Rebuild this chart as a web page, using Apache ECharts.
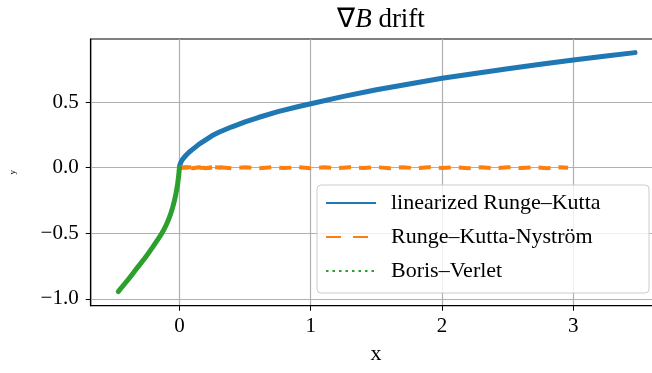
<!DOCTYPE html>
<html>
<head>
<meta charset="utf-8">
<script src="https://cdn.jsdelivr.net/npm/echarts@6/dist/echarts.min.js"></script>
<style>html,body{margin:0;padding:0;background:#fff}#c{width:652px;height:373px}</style>
</head>
<body>
<div id="c"></div>
<script>
// ---- data ----
const xTicks = [0, 1, 2, 3];
const yTicks = [-1.0, -0.5, 0.0, 0.5];

const seriesNames = ['linearized Runge–Kutta', 'Runge–Kutta-Nyström', 'Boris–Verlet'];

const blueX = [0, 0.003, 0.01, 0.02, 0.035, 0.05, 0.075, 0.1, 0.15, 0.2, 0.25, 0.3, 0.4, 0.5, 0.6, 0.75, 0.9, 1.0, 1.25, 1.5, 1.75, 2.0, 2.25, 2.5, 2.75, 3.0, 3.25, 3.47];
const blueY = [0, 0.02, 0.04, 0.058, 0.078, 0.095, 0.12, 0.14, 0.18, 0.212, 0.245, 0.27, 0.312, 0.35, 0.383, 0.428, 0.465, 0.488, 0.544, 0.595, 0.639, 0.682, 0.719, 0.755, 0.79, 0.822, 0.853, 0.878];

const orangeX = [0, 0.1, 0.2, 0.3, 0.4, 0.5, 0.6, 0.7, 0.8, 0.9, 1.0, 1.1, 1.2, 1.3, 1.4, 1.5, 1.6, 1.7, 1.8, 1.9, 2.0, 2.1, 2.2, 2.3, 2.4, 2.5, 2.6, 2.7, 2.8, 2.9, 2.96];
const orangeY = [0, 0.004, -0.003, 0.004, -0.004, 0.003, -0.004, 0.004, -0.003, 0.004, -0.004, 0.003, -0.004, 0.004, -0.003, 0.004, -0.004, 0.003, -0.004, 0.004, -0.003, 0.004, -0.004, 0.003, -0.004, 0.004, -0.003, 0.004, -0.004, 0.003, 0.0];
const orangeDenseX = [0, 0.05, 0.1, 0.15, 0.2, 0.25, 0.32];
const orangeDenseY = [0, 0.004, -0.004, 0.004, -0.004, 0.004, 0];

const greenX = [-0.466, -0.40, -0.33, -0.26, -0.20, -0.14, -0.10, -0.066, -0.038, -0.018, -0.007, -0.002, 0];
const greenY = [-0.945, -0.865, -0.775, -0.685, -0.60, -0.51, -0.435, -0.35, -0.25, -0.15, -0.07, -0.02, 0];

const xRange = [-0.676, 3.67];
const yRange = [-1.053, 0.982];

// ---- build ----
const zip = (a, b) => a.map((v, i) => [v, b[i]]);
const FONT = 'Liberation Serif';
const BLUE = '#1f77b4', ORANGE = '#ff7f0e', GREEN = '#2ca02c';

const chart = echarts.init(document.getElementById('c'), null, { renderer: 'canvas' });
const fmtY = v => (v < 0 ? '\u2212' : '') + Math.abs(v).toFixed(1);

chart.setOption({
  animation: false,
  backgroundColor: '#fff',
  title: {
    left: 376, top: 1, textAlign: 'center',
    text: '{n|\u2207}{b|B}{n| drift}',
    textStyle: {
      fontWeight: 'normal',
      rich: {
        n: { fontFamily: FONT, fontSize: 27, fontWeight: 'normal', color: '#000' },
        b: { fontFamily: FONT, fontSize: 27, fontWeight: 'normal', fontStyle: 'italic', color: '#000' }
      }
    }
  },
  grid: {
    left: 90.7, top: 39, width: 570.6, height: 266.7,
    outerBoundsMode: 'none', containLabel: false,
    show: true, borderColor: '#000', borderWidth: 1.2, backgroundColor: 'transparent'
  },
  legend: {
    orient: 'vertical', left: 317, top: 185,
    data: seriesNames,
    itemWidth: 50, itemHeight: 14, itemGap: 10,
    padding: [6, 12, 10, 8],
    backgroundColor: 'rgba(255,255,255,0.8)',
    borderColor: '#cccccc', borderWidth: 1, borderRadius: 4,
    textStyle: { fontFamily: FONT, fontSize: 22, color: '#000', lineHeight: 24, width: 246, padding: [0, 0, 0, 10] },
    selectedMode: false
  },
  xAxis: {
    type: 'value', min: xRange[0], max: xRange[1],
    name: 'x', nameLocation: 'middle', nameGap: 38,
    nameTextStyle: { fontFamily: FONT, fontSize: 22, color: '#000' },
    axisLine: { show: true, onZero: false, lineStyle: { color: '#000', width: 1.2 } },
    axisTick: { show: true, length: 5, inside: false, customValues: xTicks, lineStyle: { color: '#000', width: 1 } },
    axisLabel: { customValues: xTicks, margin: 10, fontFamily: FONT, fontSize: 21, color: '#000', formatter: v => String(v) },
    splitLine: { show: true, lineStyle: { color: '#b0b0b0', width: 1.2 } }
  },
  yAxis: {
    type: 'value', min: yRange[0], max: yRange[1],
    name: 'y', nameLocation: 'middle', nameGap: 74, nameRotate: 90,
    nameTextStyle: { fontFamily: FONT, fontSize: 9, color: '#000' },
    axisLine: { show: true, onZero: false, lineStyle: { color: '#000', width: 1.2 } },
    axisTick: { show: true, length: 5, inside: false, customValues: yTicks, lineStyle: { color: '#000', width: 1 } },
    axisLabel: { customValues: yTicks, margin: 12, fontFamily: FONT, fontSize: 21, color: '#000', formatter: fmtY },
    splitLine: { show: true, lineStyle: { color: '#b0b0b0', width: 1.2 } }
  },
  series: [
    // legend entries
    { name: seriesNames[0], type: 'line', data: [], symbol: 'none', symbolSize: 0, color: BLUE,
      itemStyle: { opacity: 0 }, lineStyle: { color: BLUE, width: 3 } },
    { name: seriesNames[1], type: 'line', data: [], symbol: 'none', symbolSize: 0, color: ORANGE,
      itemStyle: { opacity: 0 }, lineStyle: { color: ORANGE, width: 3, type: [15, 12] } },
    { name: seriesNames[2], type: 'line', data: [], symbol: 'none', symbolSize: 0, color: GREEN,
      itemStyle: { opacity: 0 }, lineStyle: { color: GREEN, width: 3, type: [2.5, 4] } },
    // plotted curves
    { name: '_rk', type: 'line', data: zip(blueX, blueY), symbol: 'none',
      lineStyle: { color: BLUE, width: 5, cap: 'round', join: 'round' }, z: 3 },
    { name: '_rkn', type: 'line', data: zip(orangeX, orangeY), symbol: 'none',
      lineStyle: { color: ORANGE, width: 4, type: [12, 8], cap: 'butt' }, z: 4 },
    { name: '_rkn2', type: 'line', data: zip(orangeDenseX, orangeDenseY), symbol: 'none',
      lineStyle: { color: ORANGE, width: 4, type: [9, 3] }, z: 4 },
    { name: '_bv', type: 'line', data: zip(greenX, greenY), symbol: 'none', smooth: 0.2,
      lineStyle: { color: GREEN, width: 5, cap: 'round', join: 'round' }, z: 5 }
  ]
});
</script>
</body>
</html>
